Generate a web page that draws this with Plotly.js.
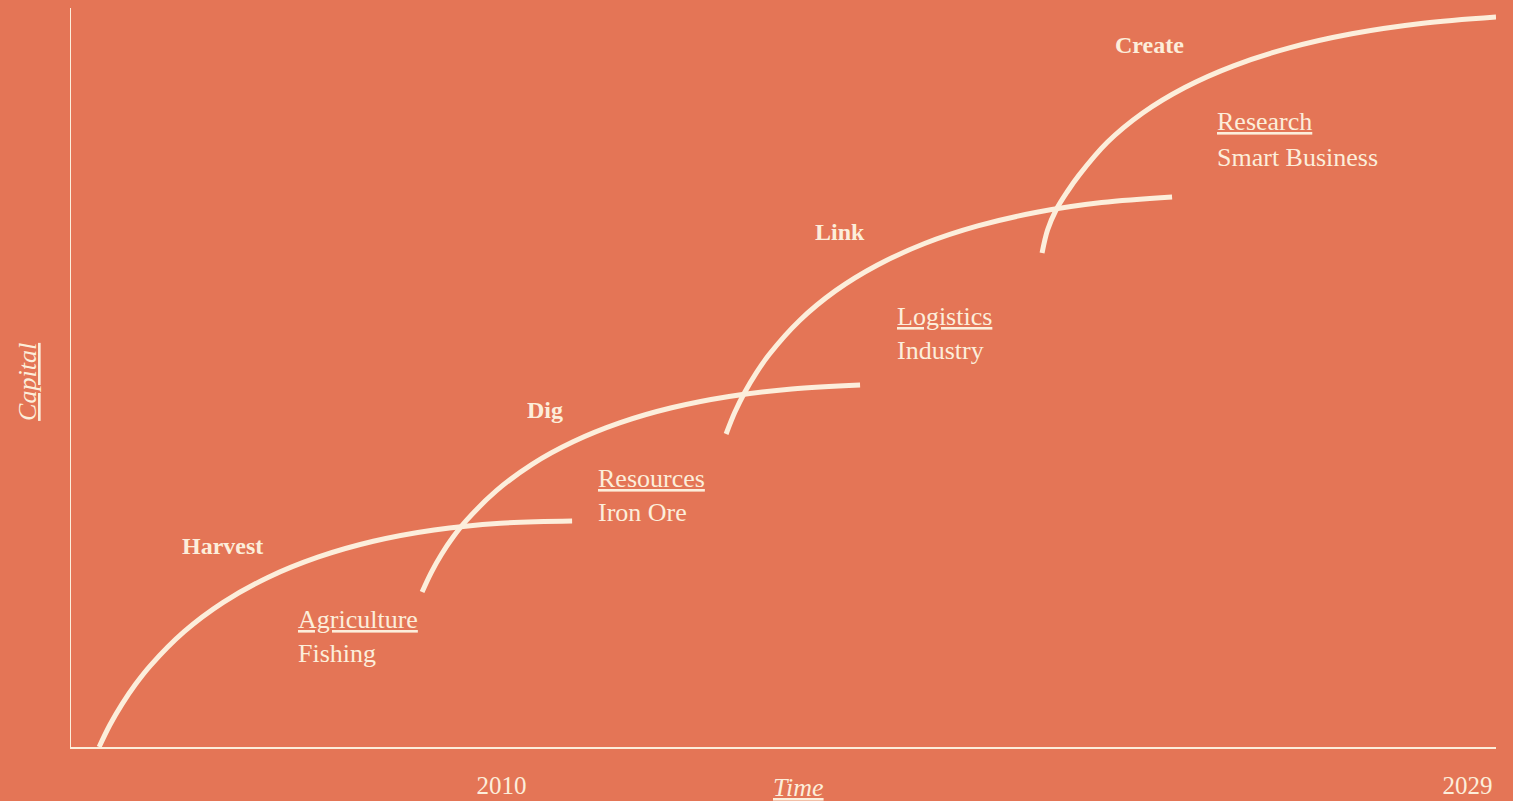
<!DOCTYPE html>
<html>
<head>
<meta charset="utf-8">
<script src="https://cdn.plot.ly/plotly-3.0.1.min.js"></script>
<style>
  html, body { margin: 0; padding: 0; background: #E47556; }
  #chart { width: 1513px; height: 801px; }
</style>
</head>
<body>
<div id="chart"></div>
<script>
// ---- Data (x = year, y = capital index) ----
const harvestX = [2002.083, 2002.294, 2002.534, 2002.799, 2003.092, 2003.755, 2004.524, 2005.403, 2006.385, 2007.477, 2008.672, 2009.976, 2011.387];
const harvestY = [0.0, 2.977, 5.805, 8.484, 11.015, 15.602, 19.567, 22.937, 25.683, 27.835, 29.364, 30.271, 30.582];

const digX = [2008.436, 2008.613, 2008.816, 2009.046, 2009.304, 2009.898, 2010.598, 2011.406, 2012.321, 2013.344, 2014.473, 2015.708, 2017.051];
const digY = [20.974, 23.572, 26.049, 28.403, 30.622, 34.682, 38.254, 41.306, 43.857, 45.900, 47.429, 48.457, 48.985];

const linkX = [2014.416, 2014.585, 2014.783, 2015.010, 2015.263, 2015.857, 2016.565, 2017.386, 2018.320, 2019.366, 2020.527, 2021.801, 2023.188];
const linkY = [42.355, 45.250, 48.011, 50.636, 53.112, 57.686, 61.719, 65.190, 68.133, 70.514, 72.355, 73.667, 74.425];

const createX = [2020.631, 2020.739, 2020.906, 2021.123, 2021.355, 2021.915, 2022.610, 2023.439, 2024.399, 2025.495, 2026.724, 2028.086, 2029.560];
const createY = [66.847, 69.959, 72.666, 75.101, 77.347, 81.827, 85.792, 89.242, 92.179, 94.601, 96.509, 97.903, 98.782];

// Stage labels
const stageNames = ["Harvest", "Dig", "Link", "Create"];
const stageX = [2003.72, 2010.50, 2016.17, 2022.07];
const stageY = [27.2, 45.6, 69.7, 95.0];

// Sector labels (underlined heading + sub line)
const sectorHeads = ["Agriculture", "Resources", "Logistics", "Research"];
const sectorSubs = ["Fishing", "Iron Ore", "Industry", "Smart Business"];
const sectorX = [2006.00, 2011.90, 2017.78, 2024.07];
const sectorHeadY = [17.3, 36.4, 58.3, 84.6];
const sectorSubY = [12.6, 31.7, 53.6, 79.8];

// Axis ticks
const tickYears = [2010, 2029];
const tickLabels = ["2010", "2029"];

// ---- Styling ----
const BG = "#E47556";
const CREAM = "#FCEEDB";
const FONT = "Liberation Serif, DejaVu Serif, serif";

function curve(x, y, name) {
  return {
    x: x, y: y, name: name, type: "scatter", mode: "lines",
    line: { color: CREAM, width: 5, shape: "spline", smoothing: 1 },
    hoverinfo: "skip", showlegend: false
  };
}

const traces = [
  curve(harvestX, harvestY, "Harvest"),
  curve(digX, digY, "Dig"),
  curve(linkX, linkY, "Link"),
  curve(createX, createY, "Create")
];

const annotations = [];
stageNames.forEach((s, i) => {
  annotations.push({
    x: stageX[i], y: stageY[i], xref: "x", yref: "y", xshift: -2,
    text: "<b>" + s + "</b>", showarrow: false,
    xanchor: "left", yanchor: "middle",
    font: { family: FONT, size: 24, color: CREAM }
  });
});
sectorHeads.forEach((s, i) => {
  annotations.push({
    x: sectorX[i], y: sectorHeadY[i], xref: "x", yref: "y", xshift: -2,
    text: "<u>" + s + "</u>", showarrow: false,
    xanchor: "left", yanchor: "middle",
    font: { family: FONT, size: 26, color: CREAM }
  });
  annotations.push({
    x: sectorX[i], y: sectorSubY[i], xref: "x", yref: "y", xshift: -2,
    text: sectorSubs[i], showarrow: false,
    xanchor: "left", yanchor: "middle",
    font: { family: FONT, size: 26, color: CREAM }
  });
});
// Axis titles
annotations.push({
  x: 0.5102, y: 0, xref: "paper", yref: "paper", yshift: -40,
  text: "<i><u>Time</u></i>", showarrow: false,
  xanchor: "center", yanchor: "middle",
  font: { family: FONT, size: 26, color: CREAM }
});
annotations.push({
  x: -0.0302, y: 0.494, xref: "paper", yref: "paper",
  text: "<i><u>Capital</u></i>", showarrow: false, textangle: -90,
  xanchor: "center", yanchor: "middle",
  font: { family: FONT, size: 26, color: CREAM }
});

const layout = {
  width: 1513, height: 801,
  margin: { l: 71, r: 17, t: 8, b: 54, pad: 0 },
  paper_bgcolor: BG, plot_bgcolor: BG,
  showlegend: false,
  font: { family: FONT, color: CREAM },
  xaxis: {
    range: [2001.53, 2029.56],
    showgrid: false, zeroline: false,
    showline: true, linecolor: CREAM, linewidth: 1.5,
    tickvals: tickYears, ticktext: tickLabels,
    ticks: "", ticklabelstandoff: 15,
    tickfont: { family: FONT, size: 25, color: CREAM },
    fixedrange: true
  },
  yaxis: {
    range: [0, 100],
    showgrid: false, zeroline: false,
    showline: true, linecolor: CREAM, linewidth: 1.5,
    showticklabels: false, ticks: "",
    fixedrange: true
  },
  annotations: annotations
};

Plotly.newPlot("chart", traces, layout, { displayModeBar: false, staticPlot: true });
</script>
</body>
</html>
